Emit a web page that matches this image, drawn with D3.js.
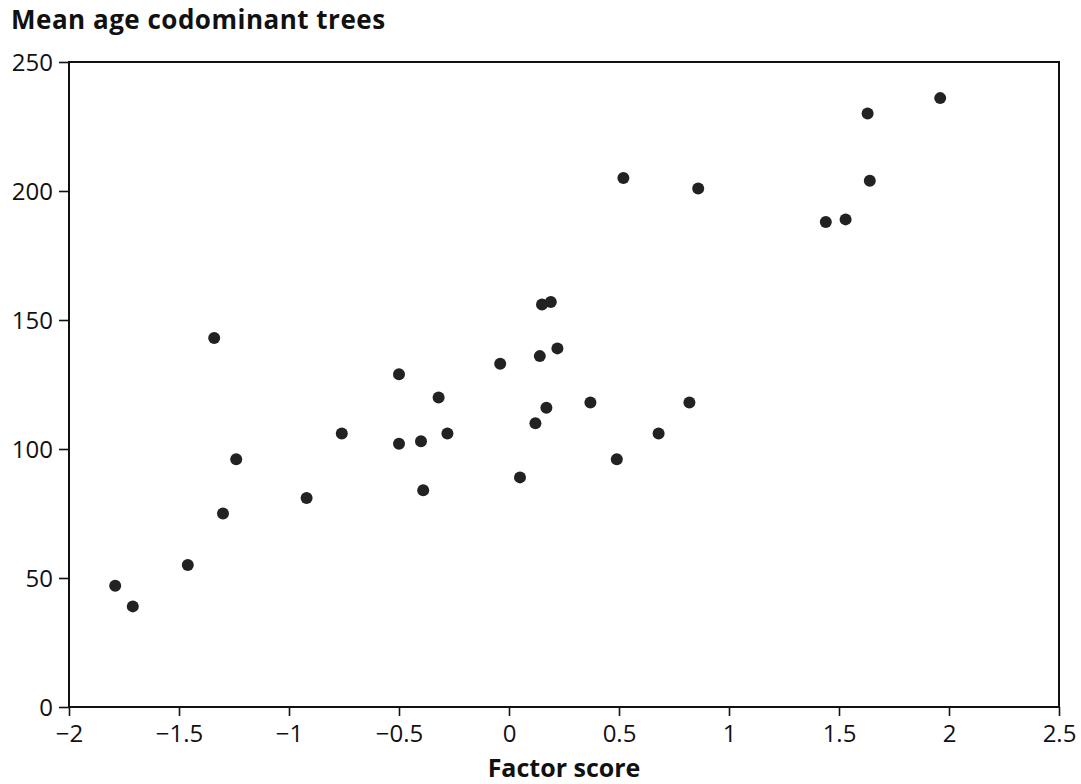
<!DOCTYPE html>
<html>
<head>
<meta charset="utf-8">
<script src="https://cdn.jsdelivr.net/npm/d3@7"></script>
<style>
  body { margin: 0; background: #fff; }
  svg text { font-family: "Open Sans", "Noto Sans", sans-serif; fill: #111; }
</style>
</head>
<body>
<div id="chart"></div>
<script>
  // factor score vs mean age of codominant trees
  let factorScore = [-1.79, -1.71, -1.46, -1.30, -1.24, -1.34, -0.92, -0.76, -0.50, -0.50,
    -0.40, -0.32, -0.28, -0.39, -0.04, 0.15, 0.19, 0.14, 0.22, 0.17,
    0.12, 0.37, 0.49, 0.68, 0.82, 0.05, 0.52, 0.86, 1.63, 1.96,
    1.64, 1.44, 1.53];
  let meanAge = [47, 39, 55, 75, 96, 143, 81, 106, 129, 102,
    103, 120, 106, 84, 133, 156, 157, 136, 139, 116,
    110, 118, 96, 106, 118, 89, 205, 201, 230, 236,
    204, 188, 189];
  let xTicks = [-2, -1.5, -1, -0.5, 0, 0.5, 1, 1.5, 2, 2.5];
  let yTicks = [0, 50, 100, 150, 200, 250];

  let width = 1081;
  let height = 784;
  let margin = { top: 62, right: 22, bottom: 77, left: 69 };

  let svg = d3.select('#chart').append('svg')
    .attr('width', width)
    .attr('height', height);

  let x = d3.scaleLinear().domain([-2, 2.5]).range([margin.left, width - margin.right]);
  let y = d3.scaleLinear().domain([0, 250]).range([height - margin.bottom, margin.top]);

  let fmt = d3.format('');

  // frame round the plot
  svg.append('rect')
    .attr('x', x(-2))
    .attr('y', y(250))
    .attr('width', x(2.5) - x(-2))
    .attr('height', y(0) - y(250))
    .attr('fill', 'none')
    .attr('stroke', '#111')
    .attr('stroke-width', 2);

  let xAxis = svg.append('g')
    .attr('transform', `translate(0, ${y(0)})`)
    .call(d3.axisBottom(x).tickValues(xTicks).tickFormat(fmt).tickSize(9).tickPadding(9));

  let yAxis = svg.append('g')
    .attr('transform', `translate(${x(-2)}, 0)`)
    .call(d3.axisLeft(y).tickValues(yTicks).tickSize(10).tickPadding(6));

  [xAxis, yAxis].forEach((g) => {
    g.select('.domain').remove();
    g.selectAll('line').attr('stroke', '#111').attr('stroke-width', 1.6);
    g.selectAll('text').style('font-size', '24px').attr('fill', '#111');
  });
  yAxis.selectAll('text').attr('dy', '0.36em');

  svg.selectAll('.dot')
    .data(factorScore)
    .enter().append('circle')
    .attr('class', 'dot')
    .attr('cx', (d) => x(d))
    .attr('cy', (d, i) => y(meanAge[i]))
    .attr('r', 6)
    .attr('fill', '#222');

  //titles
  svg.append('text')
    .attr('x', 11)
    .attr('y', 29)
    .style('font-size', '26px')
    .style('font-weight', 'bold')
    .style('letter-spacing', '0.5px')
    .text('Mean age codominant trees');

  svg.append('text')
    .attr('x', (x(-2) + x(2.5)) / 2)
    .attr('y', 777)
    .attr('text-anchor', 'middle')
    .style('font-size', '25px')
    .style('font-weight', 'bold')
    .text('Factor score');
</script>
</body>
</html>
